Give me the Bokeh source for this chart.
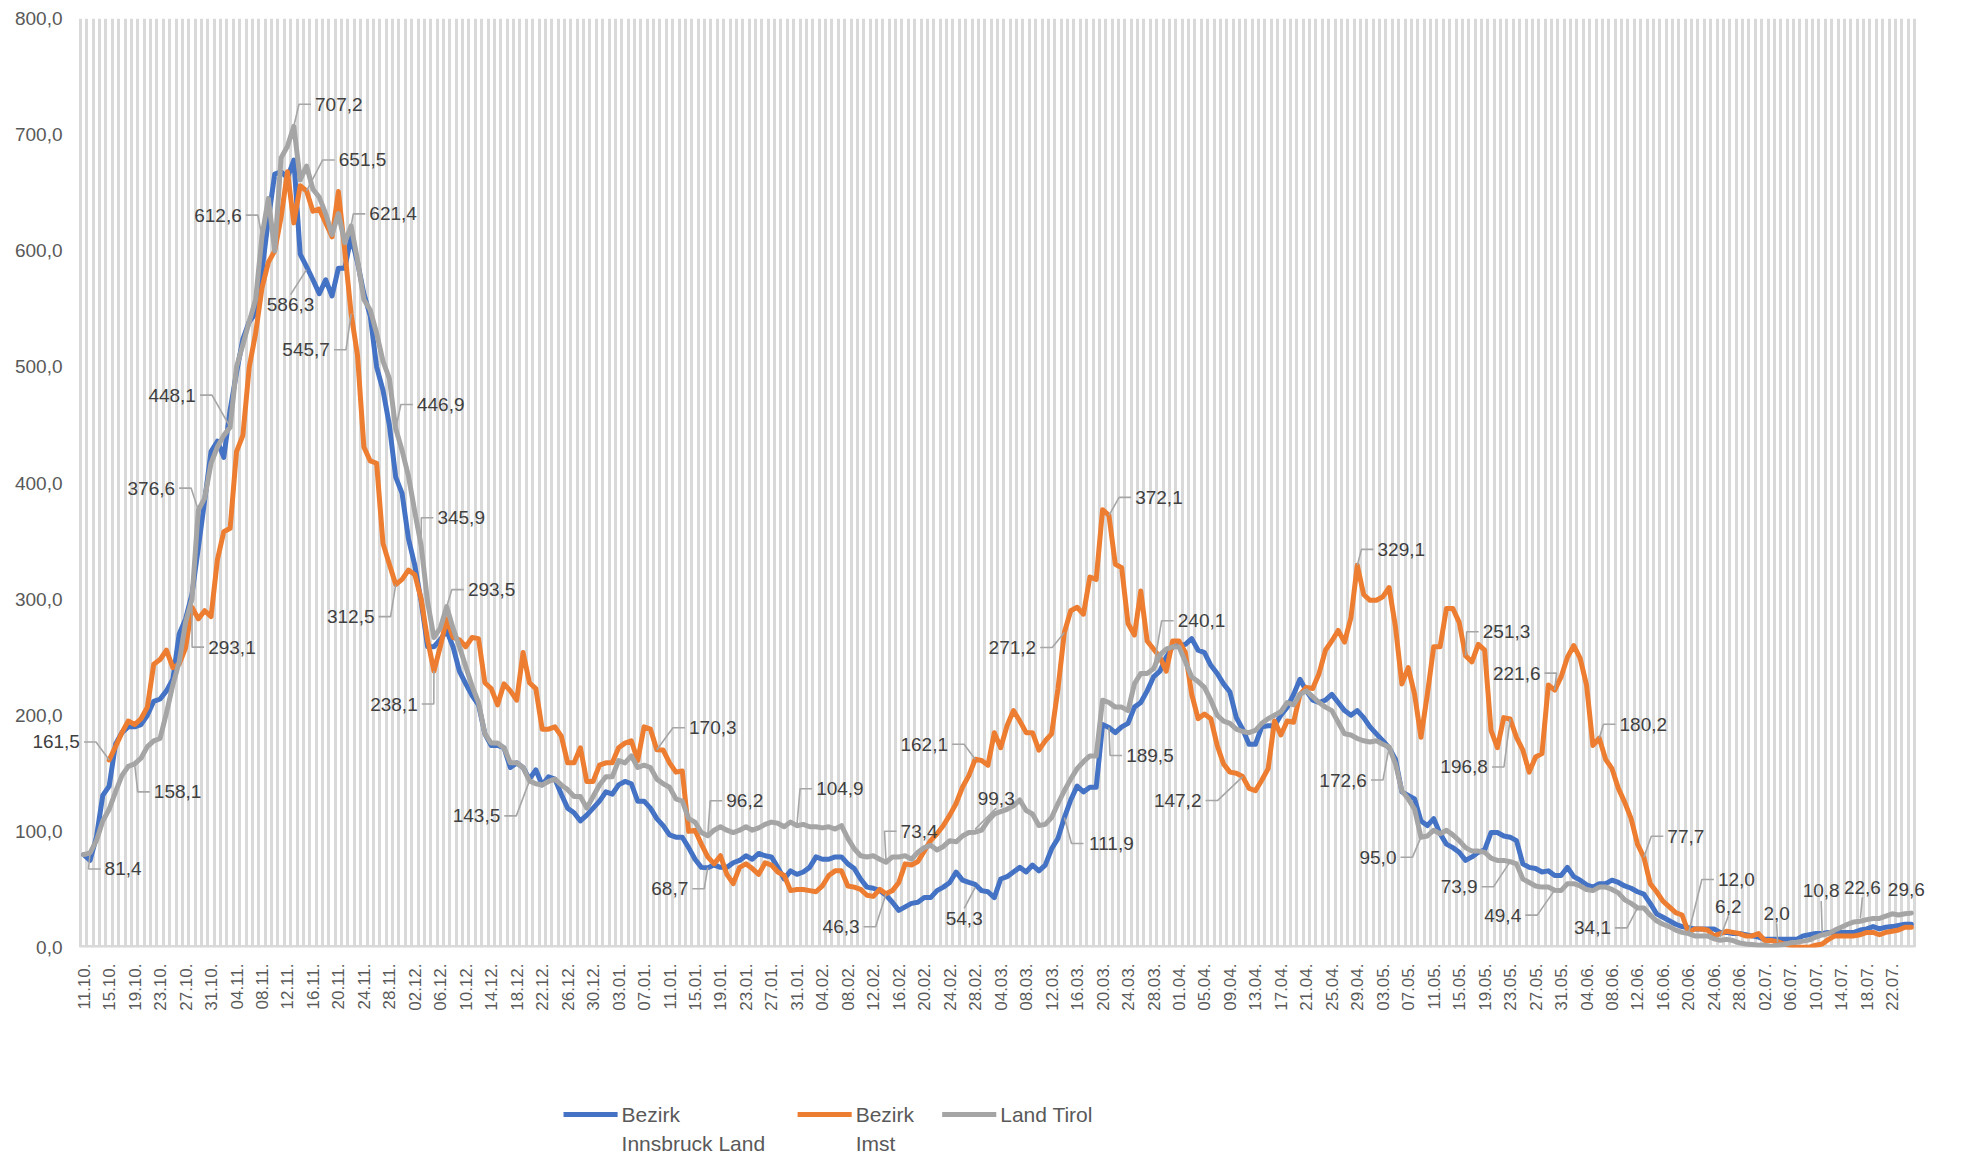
import math
from bokeh.plotting import figure
from bokeh.layouts import column
from bokeh.models import Range1d, FixedTicker, ColumnDataSource
from bokeh.core.properties import value
from bokeh.embed import file_html
from bokeh.resources import INLINE

NAN = float("nan")

# ---------------- data ----------------
first_day = "11.10.2020"          # day index 0; one value per day up to 25.07.2021
n_days = 288

x_tick_labels = ["11.10.", "15.10.", "19.10.", "23.10.", "27.10.", "31.10.", "04.11.", "08.11.", "12.11.",
                 "16.11.", "20.11.", "24.11.", "28.11.", "02.12.", "06.12.", "10.12.", "14.12.", "18.12.",
                 "22.12.", "26.12.", "30.12.", "03.01.", "07.01.", "11.01.", "15.01.", "19.01.", "23.01.",
                 "27.01.", "31.01.", "04.02.", "08.02.", "12.02.", "16.02.", "20.02.", "24.02.", "28.02.",
                 "04.03.", "08.03.", "12.03.", "16.03.", "20.03.", "24.03.", "28.03.", "01.04.", "05.04.",
                 "09.04.", "13.04.", "17.04.", "21.04.", "25.04.", "29.04.", "03.05.", "07.05.", "11.05.",
                 "15.05.", "19.05.", "23.05.", "27.05.", "31.05.", "04.06.", "08.06.", "12.06.", "16.06.",
                 "20.06.", "24.06.", "28.06.", "02.07.", "06.07.", "10.07.", "14.07.", "18.07.", "22.07."]
x_tick_step = 4

y_ticks = [0, 100, 200, 300, 400, 500, 600, 700, 800]
y_tick_labels = ["0,0", "100,0", "200,0", "300,0", "400,0", "500,0", "600,0", "700,0", "800,0"]

series_names = ["Bezirk\nInnsbruck Land", "Bezirk\nImst", "Land Tirol"]

innsbruck_land = [
    80, 75, 95, 131, 139, 175, 185, 190, 190, 192, 200, 212, 214, 221, 231, 270, 283, 304, 344, 385,
    427, 436, 422, 463, 495, 524, 539, 546, 583, 627, 666, 668, 663, 678, 597, 586.3, 575, 563, 575, 561,
    585, 585, 612, 590, 563, 544, 500, 480, 450, 405, 391, 352, 329, 298, 259, 259, 265, 273, 259, 238,
    227, 217, 209, 184, 174, 174, 172, 155, 159, 155, 145, 153, 140, 147, 145, 132, 120, 116, 109, 114,
    120, 126, 134, 132, 140, 143, 141, 126, 126, 120, 111, 105, 97, 95, 95, 86, 76, 69, 68.7, 71,
    69, 69, 73, 75, 79, 76, 81, 79, 78, 69, 59, 66, 63, 65, 69, 78, 76, 76, 78, 78,
    72, 68, 59, 52, 51, 49, 45, 39, 32, 35, 38, 39, 43, 43, 49, 52, 56, 65, 58, 56,
    54.3, 49, 48, 43, 59, 61, 65, 69, 65, 71, 66, 71, 85, 94, 111.9, 127, 139, 134, 138, 138,
    192, 189.5, 185, 190, 193, 207, 211, 221, 233, 238, 250, 259, 260, 261, 266, 256, 254, 243, 236, 227,
    220, 198, 188, 175, 175, 190, 191, 191, 200, 207, 218, 231, 221, 213, 211, 213, 218, 211, 204, 200,
    204, 198, 190, 184, 178, 172, 162, 134, 131, 128, 109, 105, 111, 98, 89, 86, 82, 75, 78, 82,
    84, 99, 99, 96, 95, 92, 72, 69, 68, 65, 66, 62, 62, 69, 61, 58, 54, 52, 55, 55,
    58, 56, 53, 51, 48, 46, 38, 29, 26, 23, 20, 18, 17, 16, 16, 16, 16, 13, 13, 12,
    12, 11, 10, 9, 7, 7, 7, 7, 7, 7, 10, 11, 12, 12, 13, 13, 13, 13, 13, 15,
    16, 18, 16, 17.5, 18, 19, 20, 20]

imst = [
    NAN, NAN, NAN, NAN, 161.5, 173, 185, 195, 192, 197, 207, 244, 248, 256, 241, 244, 258, 293.1, 283, 290,
    285, 334, 358, 361, 427, 441, 500, 529, 568, 590, 600, 629, 668, 624, 656, 651.5, 634, 636, 624, 612,
    651, 600, 545.7, 510, 431, 419, 417, 348, 330, 312.5, 317, 325, 321, 300, 265, 238.1, 259, 283, 267, 265,
    259, 267, 266, 228, 223, 209, 227, 221, 213, 254, 228, 223, 188, 188, 190, 182, 159, 159, 172, 143,
    143, 157, 159, 159, 172, 176, 178, 161, 190, 188, 170.3, 170, 159, 151, 152, 100, 101, 89, 78, 72,
    79, 63, 55, 69, 72, 68, 63, 73, 71, 65, 62, 49, 50, 50, 49, 48, 53, 62, 66, 66,
    53, 52, 50, 45, 44, 50, 46.3, 49, 56, 72, 71, 74, 83, 92, 98, 105, 114, 124, 138, 148,
    162.1, 161, 157, 185, 172, 191, 204, 195, 185, 185, 170, 178, 184, 223, 271.2, 290, 293, 287, 319, 317,
    377, 372.1, 330, 327, 279, 269, 307, 264, 257, 250, 238, 264, 264, 254, 218, 197, 201, 197, 174, 158,
    151, 150, 147.2, 137, 135, 144, 154, 195, 183, 195, 194, 218, 224, 223, 236, 256, 264, 273, 263, 284,
    329.1, 304, 299, 299, 302, 310, 276, 227, 241, 218, 181, 218, 259, 259, 292, 292, 280, 251.3, 246, 261,
    256, 187, 172, 198, 196.8, 181, 170, 151, 164, 167, 226, 221.6, 233, 250, 260, 249, 226, 174, 180.2, 162,
    154, 137, 125, 111, 89, 77.7, 55, 48, 40, 35, 30, 28, 13, 16, 16, 15, 10, 12, 14, 13,
    12, 10, 10, 12, 6, 6, 5, 3, 2, 0.3, 0.3, 0.3, 2, 3, 7, 10, 10, 10, 10, 11,
    13, 13, 11, 13, 14, 15, 17.5, 17.5]

land_tirol = [
    80, 81.4, 92, 109, 119, 134, 148, 156, 158.1, 163, 173, 178, 180, 202, 226, 246, 280, 300, 376.6, 387,
    417, 431, 441, 448.1, 500, 519, 539, 558, 612.6, 645, 600, 680, 690, 707.2, 661, 673, 653, 646, 632, 614,
    632, 607, 621.4, 592, 558, 549, 529, 505, 490, 446.9, 428, 406, 375, 345.9, 298, 267, 275, 293.5, 275, 259,
    242, 225, 211, 184, 176, 176, 172, 159, 159, 155, 143.5, 141, 140, 143, 145, 140, 136, 130, 130, 120,
    130, 140, 147, 147, 161, 159, 165, 155, 157, 155, 145, 141, 138, 128, 126, 111, 108, 99, 96.2, 101,
    104, 101, 99, 101, 104, 101, 103, 106, 108, 107, 104, 108, 104.9, 106, 104, 104, 103, 104, 102, 105,
    94, 85, 79, 78, 79, 76, 73.4, 78, 78, 79, 76, 82, 86, 88, 84, 87, 92, 91, 96, 99,
    99.3, 101, 109, 115, 117, 119, 122, 127, 118, 115, 105, 106, 112, 124, 135, 145, 154, 160, 165, 165,
    213, 211, 207, 207, 204, 227, 236, 236, 240.1, 252, 257, 259, 259, 246, 233, 229, 224, 213, 200, 195,
    193, 188, 186, 185, 187, 193, 197, 200, 203, 211, 209, 218, 221, 216, 211, 207, 204, 194, 184, 183,
    180, 178, 177, 178, 175, 172.6, 158, 135, 128, 119, 95.0, 96, 101, 98, 101, 97, 92, 86, 83, 83,
    82, 77, 75, 75, 73.9, 72, 59, 56, 53, 52, 52, 49.4, 49, 55, 55, 53, 50, 49, 52, 52,
    50, 47, 41, 38, 34.1, 34, 28, 23, 20, 18, 15, 13, 12.0, 10, 10, 10, 7.5, 6.2, 7, 6,
    4, 3, 2.6, 2, 2, 1, 2.0, 2.6, 4, 4.6, 5.5, 6.6, 9, 10.8, 12, 15, 17.5, 20, 22, 22.6,
    24, 25, 25, 27, 29, 28, 29, 29.6]

# data labels: which series (0/1/2) and which day carries a label
label_series = [2, 1, 2, 1, 2, 2, 2, 2, 1, 0, 1, 2, 2, 2, 1, 2, 1, 2, 1, 2,
                0, 2, 1, 2, 0, 1, 2, 0, 1, 1, 0, 2, 1, 1, 2, 2, 1, 2, 1, 1,
                2, 1, 1, 2, 2, 2, 2, 2, 2, 2]
label_days = [1, 4, 8, 17, 18, 23, 28, 33, 35, 35, 42, 42, 49, 53, 49, 57, 55, 70, 90, 98,
              98, 112, 126, 126, 140, 140, 140, 154, 154, 161, 161, 168, 182, 200, 205, 210, 217, 224, 224, 231,
              231, 238, 245, 244, 252, 257, 266, 273, 279, 287]

# ---------------- style ----------------
colors = ["#4472C4", "#ED7D31", "#A5A5A5"]
FONT = "Liberation Sans"
# label text offsets (screen px from the point) and leader kind: r / l / a(above) / b(below) / n(none)
label_style = [(33, 16, "r"), (-53, -18, "l"), (43, 28, "r"), (40, 40, "r"), (-47, -22, "l"),
               (-58, -32, "l"), (-44, -21, "l"), (45, -22, "r"), (56, -31, "r"), (-16, 38, "b"),
               (-45, 36, "l"), (42, -12, "r"), (45, -24, "r"), (40, -28, "r"), (-45, 32, "l"),
               (45, -17, "r"), (-40, 33, "l"), (-53, 35, "l"), (56, -22, "r"), (37, -35, "r"),
               (-38, 21, "l"), (43, -37, "r"), (-45, 33, "l"), (33, -31, "r"), (-11, 34, "b"),
               (-51, -15, "l"), (21, -34, "a"), (47, 26, "r"), (-52, 15, "l"), (50, -18, "r"),
               (41, 28, "r"), (48, -48, "r"), (-65, 24, "l"), (44, -16, "r"), (-46, 33, "l"),
               (-43, 20, "l"), (41, -24, "r"), (-51, 25, "l"), (-46, 48, "l"), (-38, -17, "l"),
               (-52, 25, "l"), (44, -14, "r"), (42, -21, "r"), (-45, 20, "l"), (48, -54, "r"),
               (8, -34, "a"), (-1, -32, "a"), (-1, -44, "a"), (2, -34, "a"), (-5, -24, "n")]

W = 1945
H_CHART, H_LEGEND = 1018, 137
px_per_day = 1834 / n_days
pad_left_px, pad_right_px = 54, 25   # blank room beside the days so outer labels are not clipped
BL, BT = 26, 18
frame_h = 929
BB = H_CHART - BT - frame_h
frame_w = 1834 + pad_left_px + pad_right_px
BR = W - BL - frame_w

p = figure(width=W, height=H_CHART, output_backend="svg", toolbar_location=None,
           x_range=Range1d(-0.5 - pad_left_px / px_per_day, n_days - 0.5 + pad_right_px / px_per_day),
           y_range=Range1d(y_ticks[0], y_ticks[-1]),
           min_border_left=BL, min_border_right=BR, min_border_top=BT, min_border_bottom=BB)
p.outline_line_color = None
p.background_fill_color = "white"
p.border_fill_color = "white"

# vertical gridlines between every day
p.xgrid.ticker = FixedTicker(ticks=[i - 0.5 for i in range(n_days + 1)])
p.xgrid.grid_line_color = "#D9D9D9"
p.xgrid.grid_line_width = 3
p.ygrid.grid_line_color = None

# y axis (labels sit just left of the first day)
p.yaxis.ticker = FixedTicker(ticks=y_ticks)
p.yaxis.major_label_overrides = {t: s for t, s in zip(y_ticks, y_tick_labels)}
p.yaxis.axis_line_color = None
p.yaxis.major_tick_line_color = None
p.yaxis.minor_tick_line_color = None
p.yaxis.major_label_text_font = FONT
p.yaxis.major_label_text_font_size = "19px"
p.yaxis.major_label_text_color = "#595959"
p.yaxis.major_label_standoff = 12 - pad_left_px

# x axis (its line is drawn only under the days, below)
x_ticks = [i * x_tick_step for i in range(len(x_tick_labels))]
p.xaxis.ticker = FixedTicker(ticks=x_ticks)
p.xaxis.major_label_overrides = {t: s for t, s in zip(x_ticks, x_tick_labels)}
p.xaxis.major_label_orientation = math.pi / 2
p.xaxis.axis_line_color = None
p.xaxis.major_tick_line_color = None
p.xaxis.minor_tick_line_color = None
p.xaxis.major_label_text_font = FONT
p.xaxis.major_label_text_font_size = "17px"
p.xaxis.major_label_text_color = "#595959"
p.xaxis.major_label_standoff = 10
p.segment(x0=[-0.5], y0=[y_ticks[0]], x1=[n_days - 0.5], y1=[y_ticks[0]],
          line_color="#D9D9D9", line_width=5)

days = list(range(n_days))
all_series = [innsbruck_land, imst, land_tirol]
for vals, col in zip(all_series, colors):
    p.line(days, vals, line_color=col, line_width=5, line_join="round", line_cap="round")

# data labels and leader lines
ppd = px_per_day
ppu = frame_h / (y_ticks[-1] - y_ticks[0])

def fmt(v):
    return f"{v:.1f}".replace(".", ",")

lx, ly, ltxt, ldx, ldy = [], [], [], [], []
xs, ys = [], []
for s, d, (dx, dy, kind) in zip(label_series, label_days, label_style):
    v = all_series[s][d]
    t = fmt(v)
    lx.append(d); ly.append(v); ltxt.append(t); ldx.append(dx); ldy.append(dy)
    tw = sum(5.3 if c == "," else 10.6 for c in t)
    if kind == "r":
        end = dx - tw / 2 - 4
        pts = [(0, 0), (end - 12, dy), (end, dy)]
    elif kind == "l":
        end = dx + tw / 2 + 4
        pts = [(0, 0), (end + 12, dy), (end, dy)]
    elif kind == "a":
        pts = [(0, -3), (dx, dy + 10)]
    elif kind == "b":
        pts = [(0, 3), (dx, dy - 10)]
    else:
        continue
    xs.append([d + px / ppd for px, py in pts])
    ys.append([v - py / ppu for px, py in pts])

p.multi_line(xs, ys, line_color="#A6A6A6", line_width=1.6)
src = ColumnDataSource(dict(x=lx, y=ly, text=ltxt, dx=ldx, dy=ldy))
p.text(x="x", y="y", text="text", x_offset="dx", y_offset="dy", source=src,
       text_font=value(FONT), text_font_size="19px", text_color="#404040",
       text_align="center", text_baseline="middle")

# ---------------- legend strip below the chart ----------------
legend_key_x = [546, 784, 931]      # left end of each key line (px in the strip)
key_len, key_gap = 55, 4
first_line_y, line_step = 41, 29    # px from the strip's bottom

q = figure(width=W, height=H_LEGEND, output_backend="svg", toolbar_location=None,
           x_range=Range1d(0, W), y_range=Range1d(0, H_LEGEND), min_border=0,
           x_axis_type=None, y_axis_type=None)
q.outline_line_color = None
q.xgrid.visible = False
q.ygrid.visible = False
q.segment(x0=legend_key_x, y0=[first_line_y] * 3, x1=[x + key_len for x in legend_key_x],
          y1=[first_line_y] * 3, line_color=colors, line_width=5)
tx, ty, tt = [], [], []
for x0, name in zip(legend_key_x, series_names):
    for k, line in enumerate(name.split("\n")):
        tx.append(x0 + key_len + key_gap)
        ty.append(first_line_y - k * line_step)
        tt.append(line)
q.text(x=tx, y=ty, text=tt, text_font=value(FONT), text_font_size="21px", text_color="#595959",
       text_align="left", text_baseline="middle")

layout = column(p, q, spacing=0)
open("out.html", "w").write(file_html(layout, INLINE))
